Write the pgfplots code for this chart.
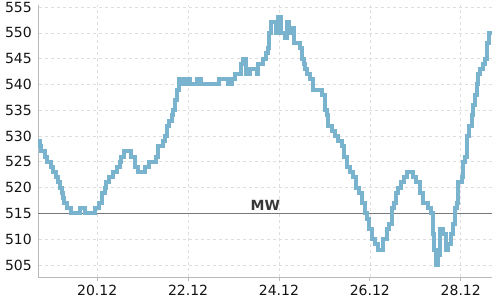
\documentclass[border=0pt]{standalone}
\usepackage{pgfplots}
\pgfplotsset{compat=1.18}
\usepackage{fontspec}
\setmainfont{DejaVu Sans}
\usetikzlibrary{calc}
\definecolor{lineblue}{RGB}{122,179,205}
\definecolor{gridgray}{RGB}{222,222,222}
\definecolor{axgray}{RGB}{185,185,185}
\definecolor{mwgray}{RGB}{120,120,120}
\definecolor{txt}{RGB}{20,20,20}
\begin{document}
\begin{tikzpicture}
\begin{axis}[
  scale only axis,
  width=453.5pt, height=272pt,
  xmin=-31, xmax=208.5,
  ymin=502.67, ymax=555.39,
  axis x line*=bottom, axis y line*=left,
  axis line style={-, draw=axgray, line width=0.8pt},
  xtick={0,48,96,144,192},
  xticklabels={20.12,22.12,24.12,26.12,28.12},
  ytick={505,510,515,520,525,530,535,540,545,550,555},
  x tick style={draw=axgray, line width=0.8pt},
  y tick style={draw=none},
  tick align=outside,
  major tick length=4pt,
  xmajorgrids, ymajorgrids,
  major grid style={draw=gridgray, dash pattern=on 3pt off 3pt, line width=0.6pt},
  tick label style={font=\fontsize{14}{16}\selectfont, text=txt},
  /pgf/number format/assume math mode=true,
  yticklabel style={inner sep=1pt, xshift=-1.5pt},
  xticklabel style={yshift=-1pt},
  clip=false,
]
\addplot[mwgray, line width=0.9pt] coordinates {(-31,515) (208.5,515)};
\node[anchor=base, text=txt!85, font=\fontsize{14}{16}\selectfont\bfseries, inner sep=0pt] at (axis cs:88.8,515.6) {MW};
\addplot[const plot, lineblue, line width=4pt] coordinates {
(-31.0,529) (-30.4,528) (-29.9,527) (-27.8,526) (-26.7,525) (-24.6,524) (-23.1,523)
(-21.5,522) (-20.9,521) (-19.9,520) (-18.8,519) (-18.3,518) (-17.3,517) (-15.7,516)
(-14.1,515) (-9.3,516) (-6.2,515) (-0.9,516) (0.7,517) (2.3,519) (3.9,520) (4.4,521)
(6.0,522) (8.6,523) (10.2,524) (11.8,525) (12.8,526) (14.4,527) (17.6,526) (19.7,524)
(21.8,523) (25.0,524) (27.6,525) (30.8,526) (32.3,528) (34.5,529) (36.0,530) (37.1,532)
(38.1,533) (39.7,534) (40.2,535) (41.3,537) (42.4,539) (43.4,541) (45.5,540) (47.1,541)
(49.2,540) (52.9,541) (55.0,540) (64.5,541) (69.3,540) (71.4,541) (73.0,542) (76.1,544)
(77.2,545) (78.8,542) (80.9,543) (84.6,542) (85.1,544) (87.7,545) (89.3,546) (90.4,547)
(90.9,550) (91.9,552) (94.6,550) (95.6,553) (97.2,550) (99.3,549) (100.4,552) (101.4,550)
(102.5,551) (104.1,548) (107.3,547) (108.3,545) (109.4,544) (109.9,543) (111.0,542)
(112.5,541) (114.1,539) (118.9,538) (120.4,535) (121.5,534) (122.0,532) (124.1,531)
(125.7,530) (127.3,529) (129.4,528) (130.5,526) (132.0,524) (133.6,523) (135.2,522)
(136.8,520) (138.4,519) (140.0,517) (141.6,515) (142.6,514) (143.7,512) (145.3,510)
(146.8,509) (148.4,508) (151.1,510) (153.2,512) (154.2,513) (155.8,516) (156.8,517)
(157.9,519) (159.0,520) (160.5,521) (162.1,522) (163.7,523) (166.8,522) (168.4,521)
(170.5,519) (172.1,517) (174.7,516) (176.3,515) (177.4,511) (177.9,508) (179.0,505)
(180.0,507) (181.1,512) (182.7,511) (184.3,508) (185.3,509) (186.9,511) (188.0,513)
(189.0,516) (190.1,517) (190.6,521) (192.7,522) (193.3,525) (194.3,526) (195.4,530)
(196.4,532) (198.0,534) (198.5,536) (199.6,538) (200.6,540) (201.2,542) (202.2,543)
(203.8,544) (204.9,545) (205.9,548) (207.0,550) (208.5,550)
};
\end{axis}
\pgfresetboundingbox
\path ($(current axis.south west)+(-38.5pt,-23pt)$) rectangle ($(current axis.north east)+(8pt,5pt)$);
\end{tikzpicture}
\end{document}
